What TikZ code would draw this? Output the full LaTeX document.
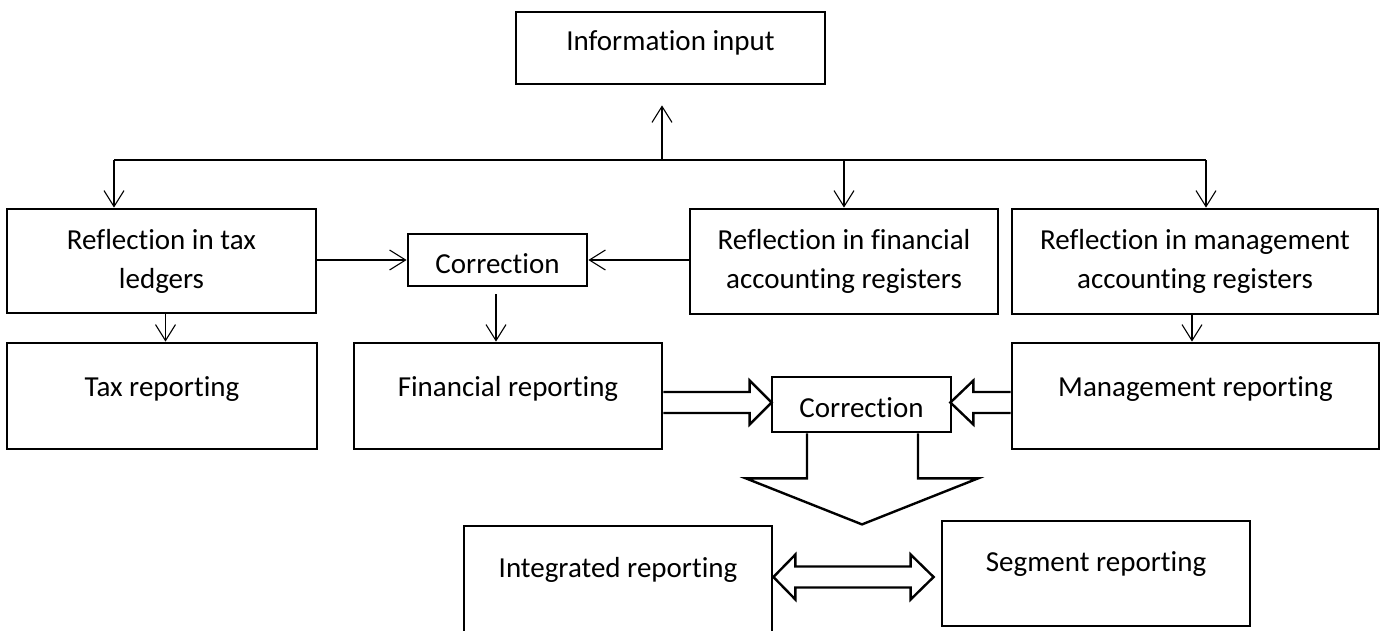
\documentclass[tikz,border=0pt]{standalone}
\usepackage{fontspec}
\setmainfont{Carlito}[Ligatures={NoCommon}]
\usetikzlibrary{arrows.meta,calc}
\begin{document}
\begin{tikzpicture}[x=1pt,y=-1pt,
  box/.style={draw, line width=2.8pt, inner sep=0pt, font=\fontsize{29}{39}\selectfont},
  thinarrow/.style={line width=1.1pt, -{Straight Barb[length=16pt,width=20pt,line width=1.1pt]}},
  thinline/.style={line width=1.1pt},
  fat/.style={line width=2.4pt, line join=miter}]
\useasboundingbox (0,0) rectangle (1384,630);
\clip (0,0) rectangle (1384,630);
% boxes
\node[box, minimum width=309pt, minimum height=72pt, text height=12pt, text depth=6.6pt] (info) at (670.5,48) {Information input};
\node[box, align=center, minimum width=309pt, minimum height=104pt] (rtax) at (161.5,261) {Reflection in tax\\ledgers};
\node[box, minimum width=179pt, minimum height=52pt, text height=26pt, text depth=0pt] (corr1) at (497.5,260) {Correction};
\node[box, align=center, minimum width=308pt, minimum height=105pt] (rfin) at (844,261.5) {Reflection in financial\\accounting registers};
\node[box, align=center, minimum width=366pt, minimum height=105pt] (rmgmt) at (1195,261.5) {Reflection in management\\accounting registers};
\node[box, minimum width=310pt, minimum height=106pt, text height=10pt, text depth=10pt] (taxrep) at (162,396) {Tax reporting};
\node[box, minimum width=308pt, minimum height=106pt, text height=10pt, text depth=10pt] (finrep) at (508,396) {Financial reporting};
\node[box, minimum width=179pt, minimum height=55pt, text height=26pt, text depth=0pt] (corr2) at (861.5,404.5) {Correction};
\node[box, minimum width=367pt, minimum height=106pt, text height=10pt, text depth=10pt] (mgmtrep) at (1195.5,396) {Management reporting};
\node[box, minimum width=308pt, minimum height=110pt, text height=4pt, text depth=12pt] (integ) at (618,581) {Integrated reporting};
\node[box, minimum width=308pt, minimum height=105pt, text height=8pt, text depth=11.6pt] (segrep) at (1096,573.5) {Segment reporting};
% bus
\coordinate (busL) at (114,160);
\coordinate (busR) at (1206,160);
\coordinate (busM) at (662,160);
\draw[thinline] (busL) -- (busR);
\draw[thinarrow, shorten >=20pt] (busM) -- (busM |- info.south);
\draw[thinarrow] (busL) -- (busL |- rtax.north);
\draw[thinarrow] (busL -| rfin.north) -- (rfin.north);
\draw[thinarrow] (busR) -- (busR |- rmgmt.north);
% into first correction
\draw[thinarrow] (corr1.west -| rtax.east) -- (corr1.west);
\draw[thinarrow] (corr1.east -| rfin.west) -- (corr1.east);
% downwards
\draw[thinarrow] ($(corr1.south)+(-1.5,7)$) -- ($(corr1.south |- finrep.north)+(-1.5,0)$);
\draw[thinarrow] ($(rtax.south)+(4,0)$) -- ($(rtax.south |- taxrep.north)+(4,0)$);
\draw[thinarrow] ($(rmgmt.south)+(-3,0)$) -- ($(rmgmt.south |- mgmtrep.north)+(-3,0)$);
% fat arrows into second correction
\coordinate (fL) at ($(corr2.west)+(1,-2)$);
\draw[fat] ($(finrep.east |- fL)+(0,-10.5)$) -- ($(fL)+(-22,-10.5)$) -- ($(fL)+(-22,-22)$) -- (fL) -- ($(fL)+(-22,22)$) -- ($(fL)+(-22,10.5)$) -- ($(finrep.east |- fL)+(0,10.5)$);
\coordinate (fR) at ($(corr2.east)+(-2,-2)$);
\draw[fat] ($(mgmtrep.west |- fR)+(0,-10.5)$) -- ($(fR)+(23,-10.5)$) -- ($(fR)+(23,-22)$) -- (fR) -- ($(fR)+(23,22)$) -- ($(fR)+(23,10.5)$) -- ($(mgmtrep.west |- fR)+(0,10.5)$);
% big down arrow
\coordinate (dS) at (corr2.south);
\draw[fat] ($(dS)+(-54.5,0)$) -- ++(0,45) -- ++(-61,0) -- ($(dS)+(0.5,91)$) -- ($(dS)+(116.5,45)$) -- ++(-60,0) -- ++(0,-45);
% double arrow
\coordinate (dl) at ($(integ.east)+(0,-4)$);
\coordinate (dr) at ($(dl -| segrep.west)+(-7,0)$);
\draw[fat] (dl) -- ($(dl)+(22,-22.5)$) -- ($(dl)+(22,-10.5)$) -- ($(dr)+(-23,-10.5)$) -- ($(dr)+(-23,-22.5)$) -- (dr) -- ($(dr)+(-23,22.5)$) -- ($(dr)+(-23,10.5)$) -- ($(dl)+(22,10.5)$) -- ($(dl)+(22,22.5)$) -- cycle;
\end{tikzpicture}
\end{document}
